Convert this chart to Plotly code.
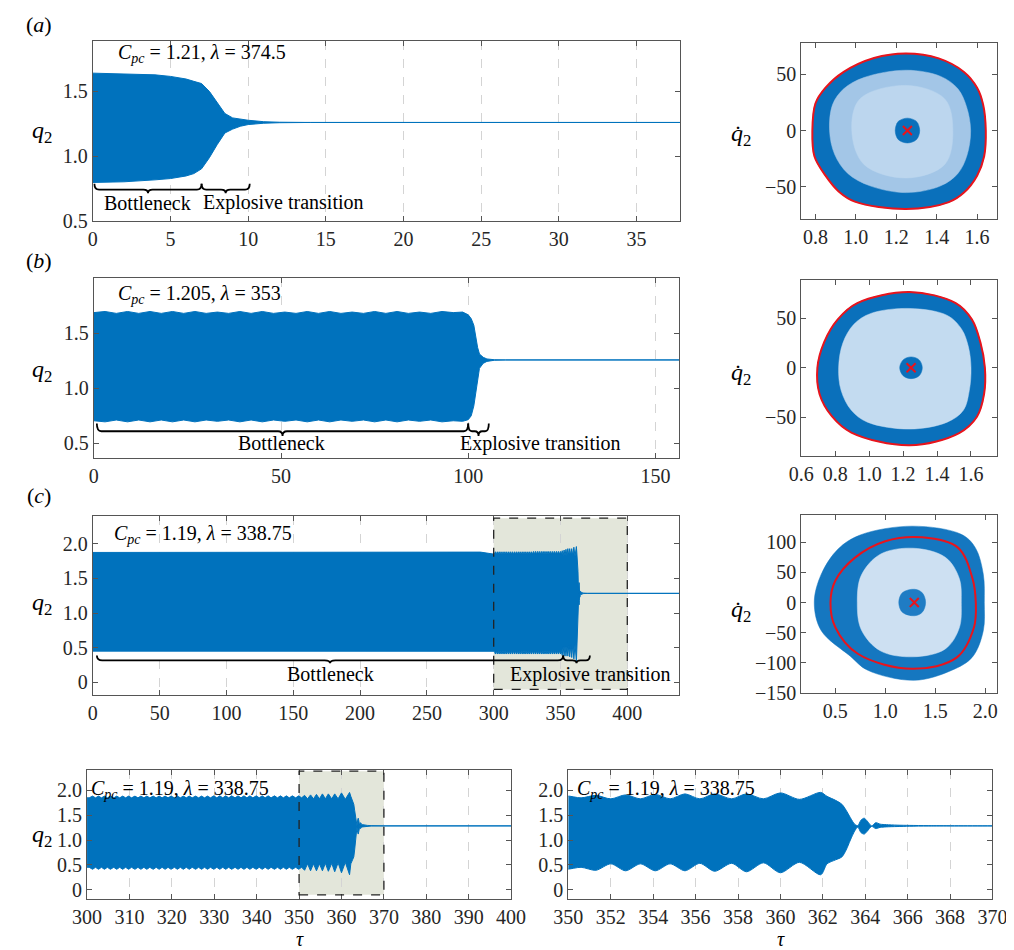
import plotly.graph_objects as go

W, H = 1014, 950
BLUE = "#0072BD"
FONT = "Liberation Serif"

# ---------------- data: time series envelopes ----------------
# (a) C_pc = 1.21, lambda = 374.5
t_a = [0, 2, 4, 5, 6, 6.5, 7, 7.5, 8, 8.5, 9, 9.5, 10, 11, 12, 14, 37.8]
up_a = [1.64, 1.635, 1.627, 1.615, 1.595, 1.577, 1.56, 1.50, 1.415, 1.33, 1.296, 1.285, 1.278, 1.267, 1.263, 1.261, 1.261]
lo_a = [0.80, 0.805, 0.82, 0.83, 0.85, 0.868, 0.905, 0.99, 1.09, 1.18, 1.21, 1.232, 1.245, 1.255, 1.259, 1.261, 1.261]

# (b) C_pc = 1.205, lambda = 353
t_b = [0, 3, 6, 9, 12, 15, 18, 21, 24, 27, 30, 33, 36, 39, 42, 45, 48, 51, 54, 57, 60, 63, 66, 69, 72, 75,
       78, 81, 84, 87, 90, 93, 96, 98.5, 100, 100.8, 101.5, 102, 102.5, 103, 104, 105, 107, 110, 156.3]
up_b = [1.685, 1.695, 1.678, 1.695, 1.678, 1.695, 1.678, 1.695, 1.678, 1.695, 1.678, 1.69, 1.678, 1.695, 1.678,
        1.695, 1.678, 1.69, 1.678, 1.695, 1.678, 1.695, 1.678, 1.69, 1.678, 1.695, 1.678, 1.695, 1.678, 1.69,
        1.678, 1.695, 1.685, 1.69, 1.665, 1.63, 1.57, 1.46, 1.37, 1.31, 1.28, 1.265, 1.258, 1.256, 1.256]
lo_b = [0.705, 0.695, 0.712, 0.695, 0.712, 0.695, 0.712, 0.695, 0.712, 0.695, 0.712, 0.70, 0.712, 0.695, 0.712,
        0.695, 0.712, 0.70, 0.712, 0.695, 0.712, 0.695, 0.712, 0.70, 0.712, 0.695, 0.712, 0.695, 0.712, 0.70,
        0.712, 0.695, 0.705, 0.70, 0.715, 0.75, 0.84, 0.96, 1.10, 1.18, 1.225, 1.243, 1.253, 1.256, 1.256]

# (c) C_pc = 1.19, lambda = 338.75  (coarse part 0-290, detailed part 300-439)
t_c = [0, 100, 200, 290,
       300.5, 301.3, 302.0, 302.7, 303.4, 304.1, 304.8, 305.5, 306.3, 307.0,
       307.7, 308.4, 309.1, 309.8, 310.5, 311.3, 312.0, 312.7, 313.4, 314.1,
       314.8, 315.6, 316.3, 317.0, 317.7, 318.4, 319.1, 319.8, 320.6, 321.3,
       322.0, 322.7, 323.4, 324.1, 324.8, 325.6, 326.3, 327.0, 327.7, 328.4,
       329.1, 329.9, 330.6, 331.3, 332.0, 332.7, 333.4, 334.1, 334.9, 335.6,
       336.3, 337.0, 337.7, 338.4, 339.1, 339.9, 340.6, 341.3, 342.0, 342.7,
       343.4, 344.2, 344.9, 345.6, 346.3, 347.0, 347.7, 348.4, 349.2, 349.9,
       350.6, 351.3, 352.0, 352.7, 353.4, 354.1, 354.8, 355.5, 356.2, 356.9,
       357.7, 358.4, 359.2, 360.0, 360.9, 361.9,
       362.2, 362.6, 362.9, 363.1, 363.3, 363.5, 363.65, 363.8, 363.95, 364.1,
       364.3, 364.5, 364.7, 365.0, 365.5, 366.1, 367.0, 370.0, 438.7]
up_c = [1.875, 1.875, 1.875, 1.88,
        1.85, 1.885, 1.85, 1.885, 1.85, 1.885, 1.85, 1.885, 1.85, 1.885,
        1.85, 1.885, 1.85, 1.885, 1.85, 1.885, 1.85, 1.885, 1.85, 1.885,
        1.85, 1.885, 1.85, 1.885, 1.85, 1.885, 1.85, 1.885, 1.85, 1.885,
        1.85, 1.885, 1.85, 1.885, 1.85, 1.885, 1.85, 1.885, 1.85, 1.885,
        1.85, 1.89, 1.85, 1.89, 1.85, 1.89, 1.85, 1.89, 1.85, 1.89,
        1.85, 1.89, 1.85, 1.89, 1.85, 1.89, 1.85, 1.89, 1.85, 1.89,
        1.85, 1.89, 1.85, 1.89, 1.85, 1.89, 1.85, 1.89, 1.85, 1.89,
        1.85, 1.90, 1.83, 1.91, 1.83, 1.92, 1.83, 1.93, 1.83, 1.93,
        1.83, 1.93, 1.83, 1.95, 1.82, 1.96,
        1.88, 1.80, 1.72, 1.60, 1.45, 1.32, 1.29, 1.40, 1.44, 1.38,
        1.285, 1.35, 1.32, 1.31, 1.30, 1.295, 1.29, 1.285, 1.285]
lo_c = [0.452, 0.452, 0.45, 0.445,
        0.45, 0.41, 0.45, 0.41, 0.45, 0.41, 0.45, 0.41, 0.45, 0.41,
        0.45, 0.41, 0.45, 0.41, 0.45, 0.41, 0.45, 0.41, 0.45, 0.41,
        0.45, 0.41, 0.45, 0.41, 0.45, 0.41, 0.45, 0.41, 0.45, 0.41,
        0.45, 0.41, 0.45, 0.41, 0.45, 0.41, 0.45, 0.41, 0.45, 0.41,
        0.45, 0.41, 0.45, 0.41, 0.45, 0.41, 0.45, 0.41, 0.45, 0.41,
        0.45, 0.41, 0.45, 0.41, 0.45, 0.41, 0.45, 0.41, 0.45, 0.41,
        0.45, 0.41, 0.45, 0.41, 0.45, 0.41, 0.45, 0.41, 0.45, 0.41,
        0.45, 0.39, 0.52, 0.38, 0.52, 0.38, 0.52, 0.38, 0.53, 0.37,
        0.53, 0.36, 0.54, 0.34, 0.55, 0.30,
        0.52, 0.60, 0.66, 0.80, 1.00, 1.18, 1.26, 1.15, 1.12, 1.18,
        1.275, 1.23, 1.255, 1.265, 1.272, 1.278, 1.282, 1.285, 1.285]

# ---------------- data: phase portraits (q2, dq2/dtau) ----------------
# (a)
pa_cyc_q = [0.785, 0.80, 0.85, 0.94, 1.09, 1.248, 1.41, 1.535, 1.60, 1.630, 1.643, 1.635, 1.60, 1.535, 1.46,
            1.248, 0.995, 0.915, 0.85, 0.795, 0.785]
pa_cyc_v = [0, 24, 38, 52, 64.3, 68.4, 64, 52, 38, 23, 0, -22.8, -40, -55, -63.5,
            -69.6, -63, -54, -40, -22.8, 0]
pa_in_q = [0.87, 0.885, 0.94, 1.04, 1.25, 1.42, 1.505, 1.548, 1.568, 1.55, 1.505, 1.42, 1.25, 1.07, 0.96, 0.895, 0.87]
pa_in_v = [0, 23, 37, 47, 53.5, 48, 37, 21, 0, -22, -38, -49, -55, -49, -38, -21, 0]
pa_mid_q = [0.98, 1.02, 1.25, 1.44, 1.48, 1.44, 1.25, 1.04, 0.98]
pa_mid_v = [0, 28, 40, 28, 0, -30, -42, -30, 0]
pa_core_q = [1.195, 1.21, 1.255, 1.30, 1.316, 1.30, 1.255, 1.21, 1.195]
pa_core_v = [0, 8, 11, 8, 0, -8, -11, -8, 0]
pa_fix = (1.255, 0)

# (b)
pb_cyc_q = [0.695, 0.735, 0.815, 0.93, 1.238, 1.51, 1.605, 1.655, 1.682, 1.677, 1.635, 1.53, 1.238, 0.895,
            0.78, 0.708, 0.695]
pb_cyc_v = [0, 26, 49, 65.5, 76.6, 65.5, 49, 26, 0, -26.7, -49.5, -66, -78.4, -65.5, -49, -26.7, 0]
pb_in_q = [0.82, 0.845, 0.91, 1.01, 1.24, 1.46, 1.545, 1.585, 1.60, 1.59, 1.555, 1.46, 1.24, 0.99, 0.895, 0.835, 0.82]
pb_in_v = [0, 25, 44, 55, 60, 53, 39, 21, 0, -23, -43, -55, -62, -55, -43, -23, 0]
pb_core_q = [1.18, 1.20, 1.247, 1.295, 1.313, 1.295, 1.247, 1.20, 1.18]
pb_core_v = [0, 8, 11, 8, 0, -8, -11, -8, 0]
pb_fix = (1.247, 0)

# (c)
pc_out_q = [0.29, 0.36, 0.53, 0.75, 1.27, 1.76, 1.90, 1.98, 1.99, 1.98, 1.87, 1.66, 1.29, 0.82, 0.65, 0.36, 0.29]
pc_out_v = [0, 47, 89, 112, 126.6, 113, 91, 47, 0, -46.7, -90.7, -112.7, -129, -112, -89, -46.7, 0]
pc_cyc_q = [0.452, 0.50, 0.694, 1.0, 1.37, 1.726, 1.87, 1.905, 1.887, 1.716, 1.27, 0.725, 0.50, 0.452]
pc_cyc_v = [0, 36, 74, 101.6, 108, 91, 41, 0, -41, -91, -110, -85, -41, 0]
pc_in_q = [0.72, 0.76, 0.95, 1.28, 1.60, 1.74, 1.76, 1.74, 1.60, 1.28, 0.95, 0.76, 0.72]
pc_in_v = [0, 45, 80, 90, 75, 40, 0, -42, -77, -90, -80, -45, 0]
pc_core_q = [1.135, 1.17, 1.29, 1.37, 1.403, 1.37, 1.29, 1.17, 1.135]
pc_core_v = [0, 16, 22, 16, 0, -16, -22, -16, 0]
pc_fix = (1.29, 0)

# ---------------- layout helpers ----------------
def dx(a, b):
    return [a / W, b / W]

def dy(top, bottom):
    return [1 - bottom / H, 1 - top / H]

tick_font = dict(family=FONT, size=20, color="#262626")

def axis(dom, rng, vals, text, grid=False, anchor=None):
    return dict(domain=dom, range=rng, tickvals=vals, ticktext=text, showline=True,
                linecolor="#555555", linewidth=1, mirror="ticks", ticks="inside",
                ticklen=5, tickcolor="#555555", showgrid=grid, gridcolor="#d4d4d4",
                griddash="dash", gridwidth=1, zeroline=False, tickfont=tick_font,
                anchor=anchor, fixedrange=True)

def fmt(v):
    return [("%.1f" % x) if x != 0 else "0" for x in v]

fig = go.Figure()

def ts(xa, ya, t, up, lo, shape="linear"):
    fig.add_trace(go.Scatter(x=t, y=lo, mode="lines", line=dict(color=BLUE, width=1, shape=shape, smoothing=0.8),
                             xaxis=xa, yaxis=ya, showlegend=False, hoverinfo="skip"))
    fig.add_trace(go.Scatter(x=t, y=up, mode="lines", line=dict(color=BLUE, width=1, shape=shape, smoothing=0.8),
                             fill="tonexty", fillcolor=BLUE, xaxis=xa, yaxis=ya, showlegend=False, hoverinfo="skip"))

def poly(xa, ya, q, v, color):
    fig.add_trace(go.Scatter(x=q, y=v, mode="lines", fill="toself", fillcolor=color,
                             line=dict(color=color, width=0.5, shape="spline", smoothing=1.0),
                             xaxis=xa, yaxis=ya, showlegend=False, hoverinfo="skip"))

def cyc(xa, ya, q, v):
    fig.add_trace(go.Scatter(x=q, y=v, mode="lines", line=dict(color="#e8141c", width=2, shape="spline", smoothing=1.0),
                             xaxis=xa, yaxis=ya, showlegend=False, hoverinfo="skip"))

def fix(xa, ya, p):
    fig.add_trace(go.Scatter(x=[p[0]], y=[p[1]], mode="markers",
                             marker=dict(symbol="x-thin", size=9, line=dict(color="#e8141c", width=2)),
                             xaxis=xa, yaxis=ya, showlegend=False, hoverinfo="skip"))

# time series
ts("x", "y", t_a, up_a, lo_a)
ts("x3", "y3", t_b, up_b, lo_b)
ts("x5", "y5", t_c, up_c, lo_c)
ts("x7", "y7", t_c, up_c, lo_c)
ts("x8", "y8", t_c, up_c, lo_c, shape="spline")

# phase portraits
RING = "#0a70bb"
poly("x2", "y2", pa_cyc_q, pa_cyc_v, RING)
poly("x2", "y2", pa_in_q, pa_in_v, "#a3c6e7")
poly("x2", "y2", pa_mid_q, pa_mid_v, "#bcd6ee")
poly("x2", "y2", pa_core_q, pa_core_v, RING)
cyc("x2", "y2", pa_cyc_q, pa_cyc_v)
fix("x2", "y2", pa_fix)

poly("x4", "y4", pb_cyc_q, pb_cyc_v, RING)
poly("x4", "y4", pb_in_q, pb_in_v, "#c3dbf0")
poly("x4", "y4", pb_core_q, pb_core_v, RING)
cyc("x4", "y4", pb_cyc_q, pb_cyc_v)
fix("x4", "y4", pb_fix)

poly("x6", "y6", pc_out_q, pc_out_v, "#1577c0")
poly("x6", "y6", pc_in_q, pc_in_v, "#cde0f2")
poly("x6", "y6", pc_core_q, pc_core_v, "#1f7cc4")
cyc("x6", "y6", pc_cyc_q, pc_cyc_v)
fix("x6", "y6", pc_fix)

ty_a = [0.5, 1.0, 1.5]
ty_c = [0, 0.5, 1.0, 1.5, 2.0]
layout = dict(
    width=W, height=H, margin=dict(l=0, r=0, t=0, b=0), autosize=False,
    font=dict(family=FONT, size=20, color="#262626"),
    paper_bgcolor="white", plot_bgcolor="white", showlegend=False,
    xaxis=axis(dx(72, 677), [0, 37.8], list(range(0, 40, 5)), [str(v) for v in range(0, 40, 5)], True, "y"),
    yaxis=axis(dy(33, 216), [0.5, 1.89], ty_a, fmt(ty_a), False, "x"),
    xaxis2=axis(dx(802, 1004), [0.73, 1.70], [0.8, 1.0, 1.2, 1.4, 1.6], ["0.8", "1.0", "1.2", "1.4", "1.6"], False, "y2"),
    yaxis2=axis(dy(35, 213), [-78, 78], [-50, 0, 50], ["\u221250", "0", "50"], False, "x2"),
    xaxis3=axis(dx(73, 676), [0, 156.3], [0, 50, 100, 150], ["0", "50", "100", "150"], True, "y3"),
    yaxis3=axis(dy(273, 455), [0.37, 2.0], ty_a, fmt(ty_a), False, "x3"),
    xaxis4=axis(dx(802, 1004), [0.6, 1.755], [0.6, 0.8, 1.0, 1.2, 1.4, 1.6], ["0.6", "0.8", "1.0", "1.2", "1.4", "1.6"], False, "y4"),
    yaxis4=axis(dy(275, 453), [-89, 89], [-50, 0, 50], ["\u221250", "0", "50"], False, "x4"),
    xaxis5=axis(dx(72, 676), [0, 438.7], list(range(0, 401, 50)), [str(v) for v in range(0, 401, 50)], True, "y5"),
    yaxis5=axis(dy(514, 695), [-0.18, 2.40], ty_c, fmt(ty_c), False, "x5"),
    xaxis6=axis(dx(802, 1004), [0.16, 2.12], [0.5, 1.0, 1.5, 2.0], ["0.5", "1.0", "1.5", "2.0"], False, "y6"),
    yaxis6=axis(dy(513, 693), [-150, 145], [-150, -100, -50, 0, 50, 100],
                ["\u2212150", "\u2212100", "\u221250", "0", "50", "100"], False, "x6"),
    xaxis7=axis(dx(66, 503), [300, 400], list(range(300, 401, 10)), [str(v) for v in range(300, 401, 10)], True, "y7"),
    yaxis7=axis(dy(771, 901), [-0.18, 2.41], ty_c, fmt(ty_c), False, "x7"),
    xaxis8=axis(dx(562, 999), [350, 370], list(range(350, 371, 2)), [str(v) for v in range(350, 371, 2)], True, "y8"),
    yaxis8=axis(dy(771, 901), [-0.18, 2.41], ty_c, fmt(ty_c), False, "x8"),
)

# shaded zoom windows
shapes = []
for xr, yr, x0, x1, y0, y1 in [("x5", "y5", 300, 400, -0.10, 2.37), ("x7", "y7", 350, 370, -0.105, 2.387)]:
    shapes.append(dict(type="rect", xref=xr, yref=yr, x0=x0, x1=x1, y0=y0, y1=y1,
                       fillcolor="#e3e6da", line=dict(width=0), layer="below"))
    shapes.append(dict(type="rect", xref=xr, yref=yr, x0=x0, x1=x1, y0=y0, y1=y1,
                       fillcolor="rgba(0,0,0,0)", line=dict(color="#222", width=1.3, dash="dash"), layer="above"))

# braces (span start, span end, baseline, height, horizontal curl)
braces = [
    ("x", "y", 0.1, 7.0, 0.745, 0.045, 0.3),
    ("x", "y", 7.0, 10.1, 0.745, 0.045, 0.3),
    ("x3", "y3", 0.8, 100.0, 0.61, 0.07, 1.2),
    ("x3", "y3", 100.0, 105.5, 0.61, 0.07, 1.0),
    ("x5", "y5", 3, 352, 0.32, 0.07, 4),
    ("x5", "y5", 352, 372, 0.32, 0.07, 3),
]
for xr, yr, a, b, yb, h, w in braces:
    m = (a + b) / 2
    path = (f"M {a},{yb + h} Q {a},{yb} {a + w},{yb} L {m - w},{yb} Q {m},{yb} {m},{yb - h * 0.6} "
            f"Q {m},{yb} {m + w},{yb} L {b - w},{yb} Q {b},{yb} {b},{yb + h}")
    shapes.append(dict(type="path", xref=xr, yref=yr, path=path, line=dict(color="black", width=1.8)))

layout["shapes"] = shapes

anns = []

def txt(xr, yr, x, y, s, xanchor="center", size=20, yanchor="middle"):
    anns.append(dict(xref=xr, yref=yr, x=x, y=y, text=s, showarrow=False, xanchor=xanchor, yanchor=yanchor,
                     font=dict(family=FONT, size=size, color="black")))

par = "<i>C</i><sub><i>pc</i></sub> = {}, <i>\u03bb</i> = {}"
txt("x", "y", 1.5, 1.79, par.format("1.21", "374.5"), "left")
txt("x3", "y3", 5.8, 1.85, par.format("1.205", "353"), "left")
txt("x5", "y5", 14.0, 2.14, par.format("1.19", "338.75"), "left")
txt("x7", "y7", 300.4, 2.02, par.format("1.19", "338.75"), "left")
txt("x8", "y8", 350.3, 2.02, par.format("1.19", "338.75"), "left")

txt("x", "y", 3.5, 0.645, "Bottleneck")
txt("x", "y", 12.25, 0.645, "Explosive transition")
txt("x3", "y3", 50, 0.50, "Bottleneck")
txt("x3", "y3", 119.3, 0.50, "Explosive transition")
txt("x5", "y5", 178, 0.12, "Bottleneck")
txt("x5", "y5", 372.5, 0.12, "Explosive transition")

# panel labels
for lab, ypx in [("a", 17), ("b", 255), ("c", 493)]:
    txt("paper", "paper", 17 / W, 1 - ypx / H, f"(<i>{lab}</i>)", "center", 22)

# axis titles
q2 = "<i>q</i><sub>2</sub>"
qd2 = "<i>q\u0307</i><sub>2</sub>"
for ypx in [125, 367, 603, 838]:
    txt("paper", "paper", 20 / W, 1 - ypx / H, q2, "center", 24)
for ypx in [128, 370, 610]:
    txt("paper", "paper", 740 / W, 1 - ypx / H, qd2, "center", 24)
txt("paper", "paper", 285 / W, 1 - 942 / H, "<i>\u03c4</i>", "center", 20)
txt("paper", "paper", 781 / W, 1 - 942 / H, "<i>\u03c4</i>", "center", 20)

layout["annotations"] = anns
fig.update_layout(**layout)
fig.write_html("out.html")
